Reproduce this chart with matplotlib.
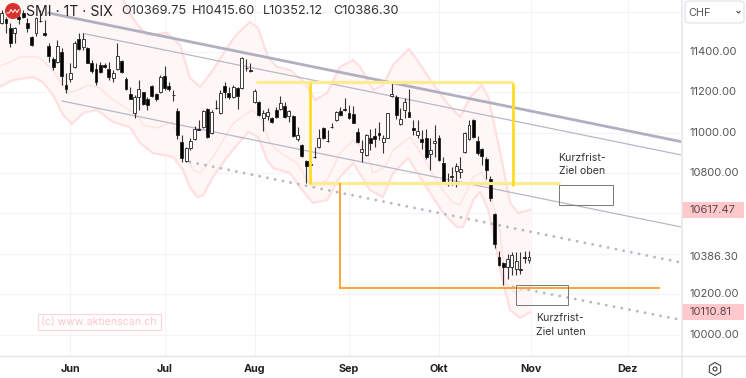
import numpy as np
import matplotlib
matplotlib.use("Agg")
import matplotlib.pyplot as plt
from matplotlib.patches import Rectangle, FancyBboxPatch, Circle, RegularPolygon
from matplotlib.transforms import blended_transform_factory

plt.rcParams['font.family'] = ['Inter', 'DejaVu Sans']

opens = [11542,11562,11517,11493,11575,11595,11545,11473,11493,11556,
         11493,11432,11364,11352,11402,11237,11265,11324,11463,11423,
         11422,11344,11314,11336,11336,11314,11273,11316,11356,11266,
         11192,11096,11176,11200,11166,11232,11190,11204,11283,11232,
         11189,11108,10956,10862,10923,10967,11019,11027,11118,10997,
         11124,11096,11232,11195,11176,11220,11220,11323,11311,11154,
         11154,11075,11083,11071,11113,11119,11132,11083,11083,10971,
         10939,10860,10845,10881,10928,11022,10961,11030,11063,11108,
         11118,11096,11093,11004,10905,10888,10974,10984,11000,10953,
         10974,11182,11179,11043,11113,11104,11024,10987,10967,10972,
         10895,10951,10974,10848,10758,10786,10812,10804,10903,10967,
         11063,10961,10918,10868,10772,10597,10382,10356,10333,10336,
         10323,10324,10382,10369.75]
highs = [11608,11575,11542,11526,11608,11608,11567,11480,11575,11608,
         11559,11443,11377,11460,11418,11295,11344,11452,11493,11493,
         11427,11361,11344,11352,11347,11352,11311,11443,11361,11275,
         11225,11187,11262,11204,11179,11237,11195,11286,11331,11253,
         11212,11121,10989,10931,10972,11034,11063,11113,11121,11113,
         11162,11212,11253,11228,11237,11228,11374,11364,11344,11215,
         11159,11113,11121,11080,11126,11182,11154,11113,11086,11030,
         10942,10865,10923,10931,11017,11027,11014,11047,11108,11126,
         11170,11138,11133,11022,10964,10994,11017,11022,11055,10989,
         11100,11245,11187,11121,11171,11215,11063,11063,11014,11017,
         10972,11038,10989,10878,10799,10832,10852,10878,11005,11063,
         11066,10984,10923,10878,10786,10600,10414,10361,10399,10410,
         10410,10410,10414,10415.60]
lows = [11539,11493,11423,11443,11539,11567,11501,11432,11480,11550,
        11481,11352,11311,11347,11237,11195,11253,11323,11410,11410,
        11344,11298,11237,11295,11319,11262,11253,11311,11298,11212,
        11166,11072,11113,11138,11113,11176,11159,11199,11212,11209,
        11159,10967,10857,10857,10915,10964,11014,11022,10972,10994,
        11116,11091,11171,11166,11171,11116,11215,11308,11303,11149,
        11085,11010,11063,11050,11075,11113,11075,11055,10977,10961,
        10878,10749,10749,10873,10923,10967,10956,11022,11060,11083,
        11109,11066,11047,10951,10857,10885,10915,10931,10964,10901,
        10972,11179,11066,11038,11071,11076,10989,10972,10918,10868,
        10815,10878,10862,10749,10736,10741,10733,10774,10898,10964,
        10972,10890,10840,10769,10663,10427,10339,10245,10273,10295,
        10293,10300,10352,10352.12]
closes = [11592,11545,11446,11517,11562,11575,11517,11435,11567,11552,
          11485,11380,11324,11430,11281,11215,11295,11443,11413,11463,
          11347,11308,11252,11300,11328,11278,11298,11382,11303,11217,
          11169,11179,11217,11141,11138,11182,11167,11278,11220,11215,
          11186,10989,10873,10923,10961,11017,11015,11108,10977,11105,
          11121,11199,11204,11176,11228,11182,11369,11319,11308,11208,
          11088,11096,11104,11053,11080,11146,11080,11108,10984,10989,
          10885,10837,10842,10878,10972,10972,10957,11027,11103,11088,
          11114,11071,11050,10956,10920,10991,10948,10971,10989,10974,
          11096,11192,11088,11066,11152,11080,11014,11010,10953,10881,
          10915,10961,10865,10763,10754,10782,10835,10820,11000,11038,
          10977,10898,10886,10815,10675,10448,10346,10334,10376,10394,
          10366,10321,10379,10386.30]

# band lines, x is the bar number
upper_x = [-1,15,25.3,28.3,30.4,32.3,33.9,38.6,41.6,43.9,46.3,49.3,53.3,55.1,57.9,59.8,62.1,64.2,67.3,70.8,
           73.1,75.9,78.9,82,83.6,86.6,89,91.3,93.6,95,96.9,100,103.9,106.9,109.3,112,113.5,116.3,118.6,120.5,123.3]
upper_y = [12000,11900,11757,11658,11573,11519,11484,11494,11435,11271,11227,11311,11445,11494,11549,11519,11375,11326,11311,11246,
           11162,11197,11326,11360,11326,11212,11236,11336,11385,11415,11360,11261,11147,11078,11177,11236,11177,10900,10652,10602,10617.47]
middle_x = [-1,1.9,4.3,8.5,11.3,12.9,15.5,17.8,20.1,22.9,26,31.6,33,36.2,39.7,41.6,44.6,46.3,49.3,54,58.4,60.3,62.6,65,68.9,71.2,
            72.6,75.9,78.9,82,85.2,86.6,89.4,91.3,95.3,98.3,102.3,105.3,106.9,110,112,113.5,116.3,117.4,119.8,123.3]
middle_y = [11326,11350,11375,11375,11326,11276,11197,11212,11236,11222,11162,11088,11038,11023,11053,10964,10815,10800,10880,11048,11113,11078,10949,10899,10850,10766,
            10731,10766,10899,10964,10899,10800,10830,10914,10979,10880,10731,10652,10642,10781,10805,10731,10503,10255,10206,10235]
lower_x = [-1,2.6,7.3,9.6,12,14.3,16.4,19,22.2,26,29.9,32.3,35.3,40,42.3,43.9,45.6,47,49.3,52.6,57.5,59.8,61.9,63.3,67.3,70.1,
           72.6,75.9,78.9,82,85.9,88.9,91.3,94.8,98.3,103,106.2,107.6,110,111.6,113.5,117,118.6,120.9,123.3]
lower_y = [11222,11261,11276,11251,11187,11088,11043,11098,11113,11053,11028,10949,10899,10880,10815,10731,10681,10691,10781,10880,11004,10979,10865,10825,10800,10716,
           10652,10667,10781,10850,10716,10681,10800,10875,10756,10602,10533,10533,10667,10706,10617,10255,10121,10082,10110.81]

# drawn trend lines (bar number, price)
trend_thick = ([11, 158.45], [11593, 10956])
trend_top = ([19, 158.45], [11492, 10890])
trend_bottom = ([14.1, 158.45], [11157, 10533])
dots_upper = ([43.9, 158.45], [10855, 10357])
dots_lower = ([119.3, 157.5], [10236, 10077])

month_pos = [16, 38, 59, 81, 102, 123.5, 146]
month_names = ["Jun", "Jul", "Aug", "Sep", "Okt", "Nov", "Dez"]
price_ticks = [10000, 10200, 10800, 11000, 11200, 11400]
grid_prices = [10000, 10200, 10400, 10600, 10800, 11000, 11200, 11400, 11600]
last_close = 10386.30
band_high = 10617.47
band_low = 10110.81

W, H = 746, 378
def fx(x): return x / W
def fy(y): return 1 - y / H

fig = plt.figure(figsize=(7.46, 3.78), dpi=100)
ax = fig.add_axes([0, 22 / H, 681 / W, 356 / H])
ax.set_xlim(-0.4, 158.45)
ax.set_ylim(9893.6, 11657.6)

ax.set_axisbelow(True)
ax.set_xticks(month_pos)
ax.set_xticklabels(month_names, fontsize=7.8, fontweight='bold', color='#222222')
ax.set_yticks(grid_prices)
ax.set_yticklabels([])
ax.tick_params(length=0, pad=6)
ax.grid(True, color='#f4f4f6', lw=0.8)
for s in ['top', 'left', 'right']:
    ax.spines[s].set_visible(False)
ax.spines['bottom'].set_color('#e4e4e6')
ax.spines['bottom'].set_linewidth(1)

# bands
ax.fill(upper_x + lower_x[::-1], upper_y + lower_y[::-1], color='#fff6f6', lw=0, zorder=1)
ax.plot(upper_x, upper_y, color='#ffdfdf', lw=1.6, zorder=2)
ax.plot(lower_x, lower_y, color='#ffdfdf', lw=1.6, zorder=2)
ax.plot(middle_x, middle_y, color='#ffe0e0', lw=0.9, zorder=2)

# drawn lines
ax.plot(*trend_thick, color='#b0b0c2', lw=2, zorder=3)
ax.plot(*trend_top, color='#b8b8c6', lw=0.9, zorder=3)
ax.plot(*trend_bottom, color='#b8b8c6', lw=0.9, zorder=3)
ax.plot(*dots_upper, color='#b8b8c6', lw=2.1, ls=(0, (0.01, 2.7)), dash_capstyle='round', zorder=3)
ax.plot(*dots_lower, color='#b8b8c6', lw=2.1, ls=(0, (0.01, 2.7)), dash_capstyle='round', zorder=3)

# candles
idx = np.arange(len(opens))
o = np.array(opens)
c = np.array(closes)
ax.vlines(idx, lows, highs, color='#333333', lw=0.8, zorder=4)
ax.bar(idx, np.abs(c - o), bottom=np.minimum(o, c), width=0.68,
       color=['black' if b < a else 'white' for a, b in zip(o, c)],
       edgecolor='#222222', lw=0.6, zorder=5)

# yellow box
ax.plot([59.3, 119.2], [11251, 11251], color='#fdeb94', lw=2.3, zorder=6, solid_capstyle='butt')
ax.plot([72, 130.2], [10751, 10751], color='#fdeb94', lw=2.3, zorder=6, solid_capstyle='butt')
ax.plot([72, 72], [11246, 10746], color='#ffdd22', lw=2, zorder=7, solid_capstyle='butt')
ax.plot([119.2, 119.2], [11246, 10736], color='#ffdd22', lw=2, zorder=7, solid_capstyle='butt')

# orange target lines
ax.plot([79, 79], [10746, 10230], color='#ff9d26', lw=1.3, zorder=6)
ax.plot([79, 153.3], [10230, 10230], color='#ff9d26', lw=1.3, zorder=6)

# target boxes
ax.add_patch(Rectangle((130.1, 10644), 12.4, 97, fill=False, ec='#777777', lw=0.7, zorder=7))
ax.add_patch(Rectangle((120, 10146), 12.1, 97, fill=False, ec='#777777', lw=0.7, zorder=7))

fig.text(fx(582), fy(164.5), "Kurzfrist-\nZiel oben", ha='center', va='center', fontsize=7.6, color='#333333', linespacing=1.4)
fig.text(fx(536), fy(325), "Kurzfrist-\nZiel unten", ha='left', va='center', fontsize=7.6, color='#333333', linespacing=1.4)

# right scale
fig.add_artist(plt.Line2D([fx(681.5)] * 2, [0, 1], color='#e8e8ea', lw=1.2))
fig.add_artist(plt.Line2D([fx(681.5), 1], [fy(356)] * 2, color='#e4e4e6', lw=1))
tr = blended_transform_factory(fig.transFigure, ax.transData)
for p in price_ticks + [last_close]:
    ax.text(fx(689), p, "%.2f" % p, transform=tr, va='center', ha='left', fontsize=8, color='#555555', clip_on=False)
for p in [band_high, band_low]:
    ax.add_patch(Rectangle((fx(682), p - 38), 62 / W, 76, transform=tr, fc='#ffc9cc', ec='none', clip_on=False, zorder=9))
    ax.text(fx(689), p, "%.2f" % p, transform=tr, va='center', ha='left', fontsize=8, color='#5a4448',
            clip_on=False, zorder=10)

# currency box
fig.add_artist(FancyBboxPatch((fx(685), fy(23)), 59 / W, 22 / H, boxstyle="round,pad=0,rounding_size=0.006",
                              transform=fig.transFigure, fc='white', ec='#dfe1e8', lw=0.8))
fig.text(fx(688), fy(12.5), "CHF", fontsize=7.8, color='#555555', va='center')
fig.add_artist(plt.Line2D([fx(737), fx(738.5), fx(740)], [fy(11.5), fy(13), fy(11.5)], color='#444444', lw=0.8))

# settings icon
ax_icon = fig.add_axes([0, 0, 1, 1], facecolor='none')
ax_icon.set_xlim(0, W)
ax_icon.set_ylim(H, 0)
ax_icon.axis('off')
ax_icon.add_patch(RegularPolygon((715, 369), 6, radius=6.5, fill=False, ec='#444444', lw=0.8))
ax_icon.add_patch(Circle((715, 369), 2, fill=False, ec='#444444', lw=0.8))

# logo and header
ax_icon.add_patch(Circle((13, 11), 8, fc='#d9322e', ec='none'))
ax_icon.plot([7, 9, 11, 13, 15, 17, 19], [13, 13, 9.5, 12.5, 9.5, 12.5, 9.5], color='white', lw=0.7)
fig.text(fx(26), fy(11.5), "SMI \u00b7 1T \u00b7 SIX", fontsize=10.2, color='#222222', va='center')
for x, s in zip([121, 192, 263, 333], ["O10369.75", "H10415.60", "L10352.12", "C10386.30"]):
    fig.text(fx(x), fy(11.5), s, fontsize=9.2, color='#333333', va='center')

# watermark
ax_icon.add_patch(Rectangle((38, 314), 123, 16, fill=False, ec='#ffd4d6', lw=0.8))
fig.text(fx(41), fy(322.3), "(c) www.aktienscan.ch", fontsize=7.6, color='#ffc4c8', va='center')

fig.savefig("out.png", dpi=100)
